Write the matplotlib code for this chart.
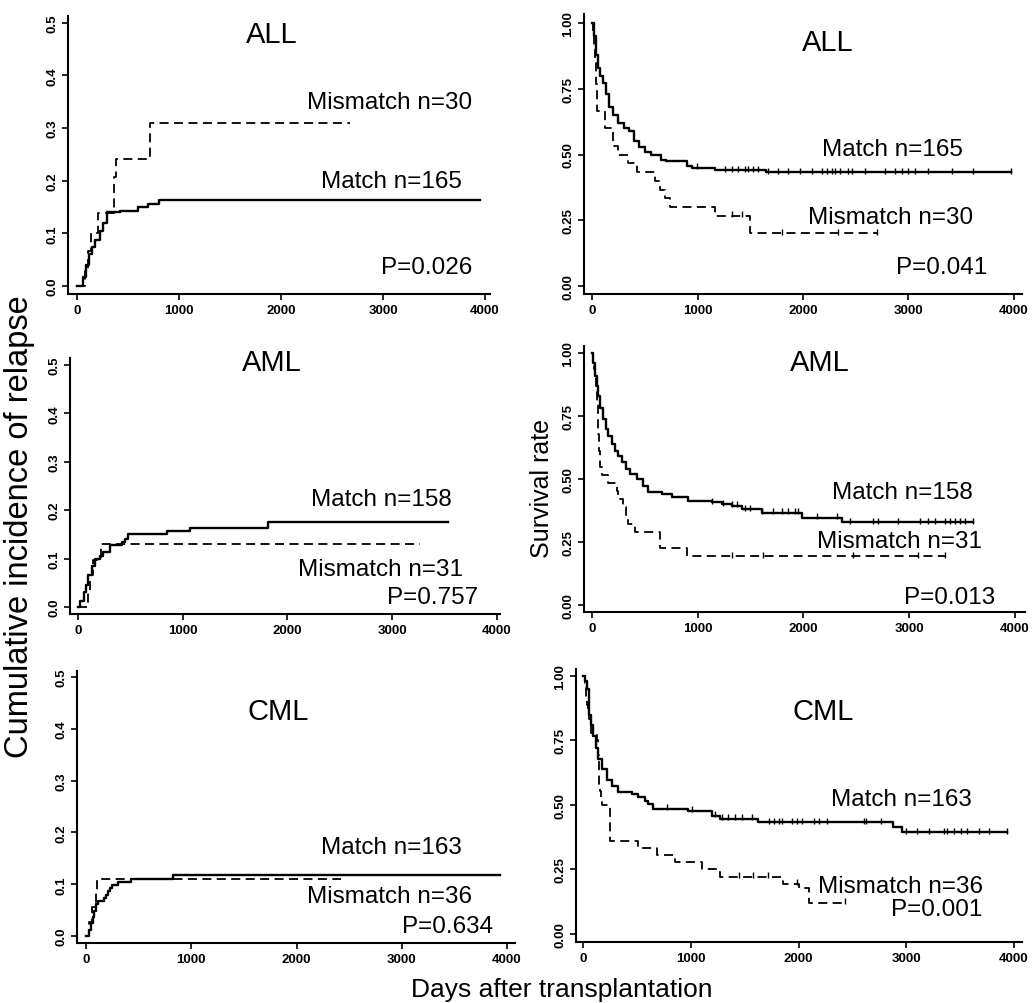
import numpy as np
import matplotlib
matplotlib.use('Agg')
import matplotlib.pyplot as plt

plt.rcParams['font.family'] = ['Liberation Sans', 'DejaVu Sans']

W, H = 1035, 1004

# ---- data (days, value) ----
# ALL, cumulative incidence of relapse
all_cir_match_t = [0, 60, 90, 120, 150, 180, 230, 260, 290, 420, 600, 700, 800]
all_cir_match_y = [0, 0.018, 0.04, 0.06, 0.075, 0.088, 0.105, 0.12, 0.14, 0.143, 0.15, 0.156, 0.163]
all_cir_match_end = 3950
all_cir_mis_t = [0, 80, 110, 140, 210, 360, 380, 720]
all_cir_mis_y = [0, 0.033, 0.067, 0.1, 0.138, 0.207, 0.241, 0.31]
all_cir_mis_end = 2680

# ALL, survival
all_os_match_t = [0, 20, 40, 60, 80, 100, 130, 160, 200, 250, 300, 350, 400, 450, 500, 560,
                  650, 700, 900, 950, 1170, 1650]
all_os_match_s = [1.0, 0.95, 0.88, 0.83, 0.80, 0.77, 0.73, 0.68, 0.65, 0.62, 0.60, 0.59, 0.55,
                  0.53, 0.51, 0.50, 0.48, 0.475, 0.455, 0.45, 0.44, 0.433]
all_os_match_end = 3970
all_os_match_cens = [992, 1261, 1324, 1387, 1450, 1482, 1530, 1577, 1672, 1767, 1861, 1972,
                     2083, 2177, 2225, 2272, 2304, 2351, 2430, 2462, 2588, 2778, 2872, 2936,
                     2999, 3062, 3188, 3409, 3615, 3970]
all_os_mis_t = [0, 10, 15, 20, 25, 35, 40, 42, 44, 46, 123, 202, 250, 345, 424, 597, 645, 692,
                740, 1166, 1498]
all_os_mis_s = [1.0, 0.967, 0.933, 0.9, 0.867, 0.833, 0.8, 0.767, 0.733, 0.667, 0.6, 0.533,
                0.5, 0.467, 0.433, 0.4, 0.367, 0.333, 0.3, 0.267, 0.2]
all_os_mis_end = 2700
all_os_mis_cens = [1330, 1420, 1800, 2330, 2700]

# AML, cumulative incidence of relapse
aml_cir_match_t = [0, 20, 60, 80, 98, 130, 162, 210, 242, 305, 417, 449, 481, 846, 1070, 1817]
aml_cir_match_y = [0, 0.013, 0.03, 0.045, 0.065, 0.085, 0.1, 0.105, 0.113, 0.127, 0.134, 0.141,
                   0.15, 0.157, 0.163, 0.175]
aml_cir_match_end = 3536
aml_cir_mis_t = [0, 100, 115, 140, 220]
aml_cir_mis_y = [0, 0.032, 0.065, 0.097, 0.129]
aml_cir_mis_end = 3270

# AML, survival
aml_os_match_t = [0, 10, 28, 45, 60, 80, 107, 130, 155, 185, 218, 250, 281, 320, 360, 423, 485,
                  532, 659, 753, 911, 1132, 1226, 1321, 1415, 1604, 1982, 2360]
aml_os_match_s = [1.0, 0.96, 0.91, 0.87, 0.83, 0.78, 0.738, 0.70, 0.672, 0.64, 0.612, 0.59,
                  0.566, 0.54, 0.52, 0.50, 0.473, 0.447, 0.44, 0.427, 0.414, 0.407, 0.40, 0.393,
                  0.38, 0.366, 0.346, 0.329]
aml_os_match_end = 3606
aml_os_match_cens = [1132, 1242, 1321, 1368, 1447, 1494, 1604, 1715, 1793, 1857, 1920, 1951,
                     2124, 2313, 2440, 2660, 2708, 2897, 3102, 3180, 3243, 3338, 3385, 3432,
                     3480, 3527, 3606]
aml_os_mis_t = [0, 10, 20, 30, 35, 45, 50, 55, 60, 65, 75, 90, 154, 233, 250, 296, 320, 344,
                407, 643, 895]
aml_os_mis_s = [1.0, 0.968, 0.935, 0.903, 0.871, 0.839, 0.806, 0.742, 0.677, 0.613, 0.548,
                0.516, 0.484, 0.452, 0.419, 0.387, 0.355, 0.323, 0.29, 0.226, 0.194]
aml_os_mis_end = 3340
aml_os_mis_cens = [1321, 1620, 2472, 3087, 3340]

# CML, cumulative incidence of relapse
cml_cir_match_t = [0, 30, 50, 65, 75, 90, 110, 170, 190, 210, 225, 250, 300, 430, 830]
cml_cir_match_y = [0, 0.012, 0.025, 0.037, 0.049, 0.061, 0.067, 0.074, 0.08, 0.086, 0.092,
                   0.098, 0.104, 0.11, 0.118]
cml_cir_match_end = 3930
cml_cir_mis_t = [0, 25, 60, 90, 100]
cml_cir_mis_y = [0, 0.028, 0.056, 0.083, 0.111]
cml_cir_mis_end = 2420

# CML, survival
cml_os_match_t = [0, 15, 34, 56, 75, 96, 120, 142, 173, 220, 266, 328, 452, 514, 576, 607, 653,
                  978, 1194, 1271, 1627, 2880, 2957]
cml_os_match_s = [1.0, 0.98, 0.95, 0.85, 0.81, 0.768, 0.72, 0.678, 0.64, 0.595, 0.575, 0.55,
                  0.543, 0.53, 0.517, 0.504, 0.485, 0.478, 0.459, 0.446, 0.433, 0.413, 0.394]
cml_os_match_end = 3932
cml_os_match_cens = [777, 1009, 1226, 1288, 1350, 1412, 1474, 1567, 1722, 1770, 1819, 1850,
                     1943, 1989, 2036, 2144, 2190, 2268, 2608, 2623, 2763, 2995, 3103, 3211,
                     3351, 3382, 3444, 3506, 3568, 3677, 3769, 3932]
cml_os_mis_t = [0, 15, 25, 30, 40, 50, 60, 70, 127, 135, 145, 150, 160, 170, 180, 250, 514, 683,
                854, 1102, 1271, 1860, 2000, 2100]
cml_os_mis_s = [1.0, 0.972, 0.944, 0.917, 0.889, 0.861, 0.833, 0.778, 0.75, 0.694, 0.639,
                0.583, 0.556, 0.528, 0.5, 0.361, 0.333, 0.306, 0.278, 0.25, 0.222, 0.194, 0.18,
                0.12]
cml_os_mis_end = 2432
cml_os_mis_cens = [1450, 1580, 1720, 1990, 2432]

titles = ['ALL', 'ALL', 'AML', 'AML', 'CML', 'CML']
match_labels = ['Match n=165', 'Match n=165', 'Match n=158', 'Match n=158', 'Match n=163', 'Match n=163']
mis_labels = ['Mismatch n=30', 'Mismatch n=30', 'Mismatch n=31', 'Mismatch n=31', 'Mismatch n=36', 'Mismatch n=36']
p_labels = ['P=0.026', 'P=0.041', 'P=0.757', 'P=0.013', 'P=0.634', 'P=0.001']

cir_ticks = [0.0, 0.1, 0.2, 0.3, 0.4, 0.5]
os_ticks = [0.0, 0.25, 0.5, 0.75, 1.0]
x_ticks = [0, 1000, 2000, 3000, 4000]

# ---- layout (pixel boxes: left, top, right, bottom) and limits ----
boxes = [(68, 17, 490, 295), (584, 15, 1022, 295),
         (70, 359, 500, 615), (584, 347, 1025, 613),
         (77, 672, 515, 944), (576, 670, 1022, 943)]
xlims = [(-88, 4049), (-76, 4076), (-76, 4029), (-76, 4095), (-86, 4076), (-65, 4074)]
ylims = [(-0.0152, 0.513), (-0.030, 1.034), (-0.0145, 0.514), (-0.028, 1.028),
         (-0.0135, 0.512), (-0.031, 1.027)]

# text positions in data coords: title, match, mismatch, p
title_pos = [(1912, 0.479), (2237, 0.928), (1852, 0.506), (2156, 0.964), (1824, 0.434), (2227, 0.864)]
match_pos = [(3775, 0.20), (3517, 0.52), (3570, 0.223), (3603, 0.448), (3572, 0.172), (3610, 0.523)]
mis_pos = [(3873, 0.35), (3611, 0.262), (3675, 0.078), (3688, 0.254), (3667, 0.077), (3712, 0.186)]
p_pos = [(3873, 0.036), (3744, 0.072), (3819, 0.021), (3811, 0.032), (3866, 0.019), (3703, 0.097)]

curves = [
    (all_cir_match_t, all_cir_match_y, all_cir_match_end, [], all_cir_mis_t, all_cir_mis_y, all_cir_mis_end, []),
    (all_os_match_t, all_os_match_s, all_os_match_end, all_os_match_cens,
     all_os_mis_t, all_os_mis_s, all_os_mis_end, all_os_mis_cens),
    (aml_cir_match_t, aml_cir_match_y, aml_cir_match_end, [], aml_cir_mis_t, aml_cir_mis_y, aml_cir_mis_end, []),
    (aml_os_match_t, aml_os_match_s, aml_os_match_end, aml_os_match_cens,
     aml_os_mis_t, aml_os_mis_s, aml_os_mis_end, aml_os_mis_cens),
    (cml_cir_match_t, cml_cir_match_y, cml_cir_match_end, [], cml_cir_mis_t, cml_cir_mis_y, cml_cir_mis_end, []),
    (cml_os_match_t, cml_os_match_s, cml_os_match_end, cml_os_match_cens,
     cml_os_mis_t, cml_os_mis_s, cml_os_mis_end, cml_os_mis_cens),
]


def draw_step(ax, t, v, end, cens, ls, lw):
    tt = list(t) + [end]
    vv = list(v) + [v[-1]]
    ax.step(tt, vv, where='post', color='black', linestyle=ls, linewidth=lw)
    if len(cens):
        idx = np.searchsorted(np.array(t), np.array(cens), side='right') - 1
        cy = np.array(v)[idx]
        ax.plot(cens, cy + 0.006, linestyle='none', marker='|', markersize=4,
                markeredgewidth=1.0, color='black')


fig = plt.figure(figsize=(W / 100, H / 100), dpi=100)

for i in range(6):
    l, t, r, b = boxes[i]
    ax = fig.add_axes([l / W, 1 - b / H, (r - l) / W, (b - t) / H])
    mt, mv, mend, mc, xt, xv, xend, xc = curves[i]
    draw_step(ax, mt, mv, mend, mc, '-', 1.7)
    draw_step(ax, xt, xv, xend, xc, (0, (5, 3)), 1.3)

    ax.set_xlim(*xlims[i])
    ax.set_ylim(*ylims[i])
    ax.spines['top'].set_visible(False)
    ax.spines['right'].set_visible(False)
    ax.spines['left'].set_linewidth(1.5)
    ax.spines['bottom'].set_linewidth(1.5)

    ax.set_xticks(x_ticks)
    ax.set_xticklabels([str(v) for v in x_ticks])
    if i % 2 == 0:
        ax.set_yticks(cir_ticks)
        ax.set_yticklabels(['%.1f' % v for v in cir_ticks])
    else:
        ax.set_yticks(os_ticks)
        ax.set_yticklabels(['%.2f' % v for v in os_ticks])
    ax.tick_params(axis='both', length=4, width=1.2, labelsize=9.5, pad=3)
    for lab in ax.get_xticklabels():
        lab.set_fontweight('bold')
    for lab in ax.get_yticklabels():
        lab.set_fontweight('bold')
        lab.set_rotation(90)
        lab.set_va('center')

    ax.text(title_pos[i][0], title_pos[i][1], titles[i], fontsize=21, ha='center', va='center')
    ax.text(match_pos[i][0], match_pos[i][1], match_labels[i], fontsize=17.5, ha='right', va='center')
    ax.text(mis_pos[i][0], mis_pos[i][1], mis_labels[i], fontsize=17.5, ha='right', va='center')
    ax.text(p_pos[i][0], p_pos[i][1], p_labels[i], fontsize=17.5, ha='right', va='center')

fig.text(20 / W, 1 - 527 / H, 'Cumulative incidence of relapse', rotation=90,
         fontsize=23.5, ha='center', va='center')
fig.text(542 / W, 1 - 488 / H, 'Survival rate', rotation=90,
         fontsize=18, ha='center', va='center')
fig.text(562 / W, 1 - 990 / H, 'Days after transplantation',
         fontsize=19, ha='center', va='center')

fig.savefig('out.png', dpi=100)
